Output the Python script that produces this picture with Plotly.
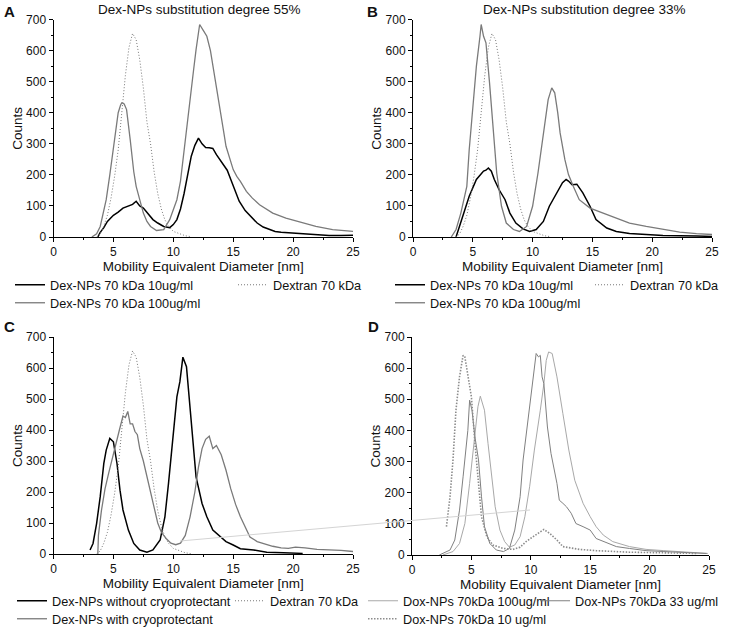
import plotly.graph_objects as go

# ---------------- data ----------------
dextran_x = [3.6, 3.9, 4.2, 4.5, 4.8, 5.1, 5.4, 5.7, 6.0, 6.3, 6.6, 6.9, 7.2, 7.5, 7.8,
             8.1, 8.4, 8.7, 9.0, 9.3, 9.6, 10.0, 10.5, 11.0, 11.5]
dextran_y = [0, 10, 35, 70, 125, 195, 280, 410, 520, 610, 655, 635, 570, 480, 370,
             300, 210, 140, 90, 55, 35, 18, 10, 4, 1]

a10_x = [3.7, 3.9, 4.2, 4.5, 5.0, 5.4, 5.8, 6.2, 6.6, 6.9, 7.2, 7.5, 7.9, 8.3, 8.7, 9.2, 9.7,
         10.0, 10.3, 10.6, 10.9, 11.2, 11.5, 11.8, 12.1, 12.4, 12.7, 13.0, 13.3, 13.6, 13.9,
         14.2, 14.5, 14.8, 15.1, 15.5, 16.0, 16.5, 17.0, 17.5, 18.0, 18.5, 19.0, 20.0, 21.0,
         22.0, 23.0, 24.0, 25.0]
a10_y = [0, 15, 30, 50, 70, 80, 93, 100, 105, 115, 100, 93, 75, 56, 45, 34, 30,
         40, 56, 90, 140, 200, 260, 295, 318, 300, 288, 287, 285, 265, 249,
         235, 215, 185, 155, 115, 85, 65, 45, 32, 24, 18, 15, 12, 9,
         6, 5, 5, 6]

a100_x = [3.2, 3.6, 3.9, 4.2, 4.4, 4.7, 5.0, 5.2, 5.4, 5.6, 5.7, 5.9, 6.1, 6.4, 6.7, 6.9, 7.2,
          7.5, 7.8, 8.1, 8.6, 9.2, 9.7, 10.0, 10.3, 10.6, 10.8, 11.1, 11.4, 11.7, 11.9, 12.1,
          12.2, 12.5, 12.8, 13.1, 13.3, 13.6, 13.9, 14.2, 14.4, 14.7, 15.0, 15.3, 15.6, 16.1,
          16.6, 17.2, 17.8, 18.3, 19.4, 20.6, 21.9, 23.3, 24.2, 25.0]
a100_y = [0, 10, 34, 80, 120, 200, 281, 340, 400, 425, 432, 428, 410, 314, 210, 163, 115,
          77, 50, 34, 21, 24, 56, 85, 120, 180, 249, 340, 442, 540, 603, 650,
          684, 665, 646, 600, 550, 480, 410, 340, 292, 250, 217, 195, 179, 147,
          125, 104, 88, 77, 61, 47, 34, 24, 20, 18]

b10_x = [3.6, 3.8, 4.2, 4.7, 5.3, 5.9, 6.1, 6.3, 6.55, 6.8, 7.2, 7.7, 8.1, 8.6, 9.2, 9.75,
         10.3, 10.9, 11.4, 12.0, 12.5, 12.8, 13.0, 13.3, 13.7, 14.2, 14.8, 15.3, 16.2, 17.0,
         18.1, 19.5, 20.9, 23.7, 25.0]
b10_y = [0, 24, 67, 131, 185, 212, 215, 222, 212, 185, 152, 120, 77, 45, 26, 18,
         24, 50, 99, 142, 175, 185, 180, 168, 170, 142, 99, 56, 29, 18,
         11, 8, 5, 3, 2]

b100_x = [3.2, 3.6, 4.0, 4.5, 4.7, 5.0, 5.3, 5.6, 5.7, 5.9, 6.1, 6.4, 6.7, 7.0, 7.4, 7.8, 8.4,
          8.9, 9.5, 10.0, 10.45, 10.9, 11.3, 11.6, 11.85, 12.1, 12.3, 12.7, 13.0, 13.4, 13.9,
          14.8, 15.9, 17.0, 18.1, 19.5, 20.9, 22.3, 23.7, 25.0]
b100_y = [0, 24, 77, 163, 281, 410, 550, 646, 684, 646, 625, 496, 335, 206, 99, 45, 24,
          18, 34, 99, 206, 335, 442, 480, 464, 400, 335, 249, 201, 163, 120,
          93, 77, 61, 45, 34, 24, 16, 11, 8]

c_without_x = [3.05, 3.3, 3.6, 3.9, 4.2, 4.4, 4.7, 5.0, 5.3, 5.55, 5.8, 6.25, 6.7, 7.2, 7.8,
               8.3, 8.9, 9.3, 9.6, 10.0, 10.3, 10.55, 10.8, 11.1, 11.4, 11.7, 11.9, 12.4,
               12.8, 13.3, 13.9, 14.4, 15.0, 15.6, 16.7, 17.8, 19.2, 20.8]
c_without_y = [13, 34, 99, 185, 292, 335, 373, 362, 292, 206, 142, 77, 34, 13, 6,
               13, 45, 120, 228, 389, 507, 556, 635, 604, 464, 335, 249, 163,
               120, 77, 56, 40, 29, 17, 13, 6, 4, 2]

c_with_x = [3.7, 3.75, 4.0, 4.3, 4.6, 4.9, 5.2, 5.5, 5.8, 6.0, 6.2, 6.4, 6.6, 6.8, 7.0, 7.2,
            7.5, 7.8, 8.1, 8.4, 8.7, 9.0, 9.4, 9.8, 10.2, 10.6, 11.0, 11.4, 11.8, 12.1, 12.4,
            12.7, 13.0, 13.3, 13.6, 14.0, 14.4, 14.8, 15.2, 15.6, 16.0, 16.4, 17.0, 17.6,
            18.3, 19.0, 19.6, 20.2, 21.0, 22.0, 23.0, 24.0, 25.0]
c_with_y = [0, 60, 140, 210, 260, 310, 350, 400, 445, 440, 460, 420, 420, 395, 385, 340,
            300, 250, 200, 140, 100, 70, 50, 35, 30, 35, 60, 120, 200, 280, 340,
            370, 380, 340, 350, 320, 270, 210, 160, 120, 85, 55, 40, 32,
            25, 20, 18, 22, 20, 15, 14, 12, 8]

d100_x = [2.6, 3.45, 4.0, 4.45, 4.85, 5.3, 5.55, 5.75, 6.1, 6.4, 6.7, 7.0, 7.4, 7.8, 8.2, 8.65,
          9.1, 9.5, 9.9, 10.3, 10.8, 11.1, 11.3, 11.5, 11.8, 12.2, 12.7, 13.2, 13.7, 14.4,
          15.0, 15.5, 16.1, 16.9, 18.3, 19.7, 21.2, 22.6, 24.0, 24.9]
d100_y = [0, 11, 37, 101, 230, 379, 476, 510, 465, 358, 251, 155, 80, 43, 25, 32,
          59, 123, 219, 337, 465, 550, 625, 652, 647, 572, 454, 337, 240, 166,
          123, 91, 64, 43, 27, 18, 14, 11, 7, 5]

d33_x = [2.3, 3.2, 3.6, 4.0, 4.3, 4.5, 4.7, 4.85, 5.05, 5.3, 5.6, 5.85, 6.1, 6.55, 7.1, 7.7,
         8.2, 8.65, 9.1, 9.35, 9.6, 9.9, 10.2, 10.45, 10.65, 10.8, 10.95, 11.1, 11.4, 11.7,
         12.2, 12.4, 12.7, 13.0, 13.4, 13.8, 14.4, 15.0, 15.5, 16.1, 17.2, 18.3, 19.7, 21.2,
         24.0, 24.8]
d33_y = [0, 16, 48, 144, 251, 337, 400, 497, 465, 379, 305, 187, 91, 37, 16, 11,
         21, 80, 187, 305, 379, 486, 572, 647, 636, 641, 572, 550, 411, 326,
         230, 176, 166, 155, 134, 101, 91, 80, 53, 43, 27, 21, 14, 11,
         7, 5]

d10_x = [2.9, 3.2, 3.45, 3.7, 4.0, 4.3, 4.45, 4.7, 5.0, 5.3, 5.6, 5.85, 6.3, 6.8, 7.7, 8.5,
         9.1, 9.6, 10.2, 10.8, 11.1, 11.6, 12.2, 12.7, 14.1, 15.5, 18.3, 21.2, 24.0]
d10_y = [91, 187, 305, 465, 572, 641, 636, 572, 508, 358, 219, 123, 59, 32, 21, 18,
         25, 43, 59, 75, 82, 69, 48, 27, 18, 14, 9, 7, 5]

x_ticks = [0, 5, 10, 15, 20, 25]
y_ticks = [0, 100, 200, 300, 400, 500, 600, 700]
panel_titles = ["Dex-NPs substitution degree 55%", "Dex-NPs substitution degree 33%"]
panel_letters = ["A", "B", "C", "D"]

# ---------------- figure ----------------
W, H = 733, 628
FONT = "Liberation Sans, Arial, Helvetica, sans-serif"


def px_x(p):
    return p / W


def px_y(p):
    return 1 - p / H


fig = go.Figure()

traces = [
    (a10_x, a10_y, "Dex-NPs 70 kDa 10ug/ml", 1, "#000000", 1.5, "solid", (10, 285)),
    (dextran_x, dextran_y, "Dextran 70 kDa", 1, "#777777", 1.0, "1px,2px", (233, 285)),
    (a100_x, a100_y, "Dex-NPs 70 kDa 100ug/ml", 1, "#7a7a7a", 1.3, "solid", (10, 303)),
    (b10_x, b10_y, "Dex-NPs 70 kDa 10ug/ml", 2, "#000000", 1.5, "solid", (390, 285)),
    (dextran_x, dextran_y, "Dextran 70 kDa", 2, "#777777", 1.0, "1px,2px", (590, 285)),
    (b100_x, b100_y, "Dex-NPs 70 kDa 100ug/ml", 2, "#7a7a7a", 1.3, "solid", (390, 303)),
    (c_without_x, c_without_y, "Dex-NPs without cryoprotectant", 3, "#000000", 1.5, "solid", (12, 601)),
    (dextran_x, dextran_y, "Dextran 70 kDa", 3, "#777777", 1.0, "1px,2px", (230, 601)),
    (c_with_x, c_with_y, "Dex-NPs with cryoprotectant", 3, "#7a7a7a", 1.3, "solid", (12, 619)),
    (d100_x, d100_y, "Dox-NPs 70kDa 100ug/ml", 4, "#a8a8a8", 1.0, "solid", (363, 601)),
    (d33_x, d33_y, "Dox-NPs 70kDa 33 ug/ml", 4, "#808080", 1.0, "solid", (535, 601)),
    (d10_x, d10_y, "Dox-NPs 70kDa 10 ug/ml", 4, "#8c8c8c", 1.6, "1.5px,1.5px", (363, 619)),
]

legend_layouts = {}
for i, (xs, ys, name, ax, color, width, dash, lpos) in enumerate(traces):
    lname = "legend" if i == 0 else f"legend{i + 1}"
    fig.add_trace(go.Scatter(
        x=xs, y=ys, mode="lines", name=name,
        line=dict(color=color, width=width, dash=dash),
        xaxis="x" if ax == 1 else f"x{ax}",
        yaxis="y" if ax == 1 else f"y{ax}",
        legend=lname, showlegend=True, hoverinfo="skip",
    ))
    legend_layouts[lname] = dict(
        x=px_x(lpos[0]), y=px_y(lpos[1]), xref="paper", yref="paper",
        xanchor="left", yanchor="middle", orientation="h",
        bgcolor="rgba(0,0,0,0)", borderwidth=0,
        font=dict(family=FONT, size=12.7, color="#111111"),
        itemwidth=30, itemclick=False, itemdoubleclick=False,
    )

panels = {
    1: dict(x=(53.5, 353), y=(237, 19.5)),
    2: dict(x=(413, 712), y=(237, 19.5)),
    3: dict(x=(53.5, 353), y=(554, 337)),
    4: dict(x=(412, 709), y=(555, 337)),
}

for k, p in panels.items():
    xa = dict(
        domain=[px_x(p["x"][0]), px_x(p["x"][1])],
        anchor="y" if k == 1 else f"y{k}",
        range=[0, 25], tickvals=x_ticks, ticktext=[str(t) for t in x_ticks],
        showline=True, linecolor="#000000", linewidth=1,
        ticks="outside", ticklen=4, tickwidth=1, tickcolor="#000000",
        minor=dict(ticks="outside", ticklen=2, tickwidth=1, tickcolor="#000000",
                   tickvals=[2.5, 7.5, 12.5, 17.5, 22.5]),
        showgrid=False, zeroline=False,
        tickfont=dict(family=FONT, size=12, color="#111111"),
        title=dict(text="Mobility Equivalent Diameter [nm]",
                   font=dict(family=FONT, size=13.5, color="#111111"), standoff=0),
        fixedrange=True,
    )
    ya = dict(
        domain=[px_y(p["y"][0]), px_y(p["y"][1])],
        anchor="x" if k == 1 else f"x{k}",
        range=[0, 700], tickvals=y_ticks, ticktext=[str(t) for t in y_ticks],
        showline=True, linecolor="#000000", linewidth=1,
        ticks="outside", ticklen=4, tickwidth=1, tickcolor="#000000",
        minor=dict(ticks="outside", ticklen=2, tickwidth=1, tickcolor="#000000",
                   tickvals=[50, 150, 250, 350, 450, 550, 650]),
        showgrid=False, zeroline=False,
        tickfont=dict(family=FONT, size=12, color="#111111"),
        title=dict(text="Counts", font=dict(family=FONT, size=13.5, color="#111111"),
                   standoff=0),
        fixedrange=True,
    )
    sx = "xaxis" if k == 1 else f"xaxis{k}"
    sy = "yaxis" if k == 1 else f"yaxis{k}"
    fig.update_layout(**{sx: xa, sy: ya})

annotations = []
for title, cx in zip(panel_titles, [199, 584]):
    annotations.append(dict(text=title, x=px_x(cx), y=px_y(9), xref="paper", yref="paper",
                            xanchor="center", yanchor="middle", showarrow=False,
                            font=dict(family=FONT, size=13.5, color="#111111")))
for letter, (lx, ly) in zip(panel_letters, [(2, 12), (365, 12), (2, 326), (366, 326)]):
    annotations.append(dict(text=f"<b>{letter}</b>", x=px_x(lx), y=px_y(ly), xref="paper",
                            yref="paper", xanchor="left", yanchor="middle", showarrow=False,
                            font=dict(family=FONT, size=15, color="#111111")))

fig.update_layout(
    width=W, height=H,
    margin=dict(l=0, r=0, t=0, b=0, autoexpand=False),
    paper_bgcolor="white", plot_bgcolor="white",
    font=dict(family=FONT, color="#111111"),
    annotations=annotations,
    showlegend=True,
    hovermode=False,
    shapes=[dict(type="line", xref="paper", yref="paper",
                 x0=px_x(180), y0=px_y(541), x1=px_x(530), y1=px_y(510),
                 line=dict(color="#d4d4d4", width=1))],
    **legend_layouts,
)

fig.write_html(
    "out.html",
    config={"displayModeBar": False, "staticPlot": False},
    post_script="document.body.style.margin='0px';document.body.style.padding='0px';"
                "document.documentElement.style.overflow='hidden';",
)
